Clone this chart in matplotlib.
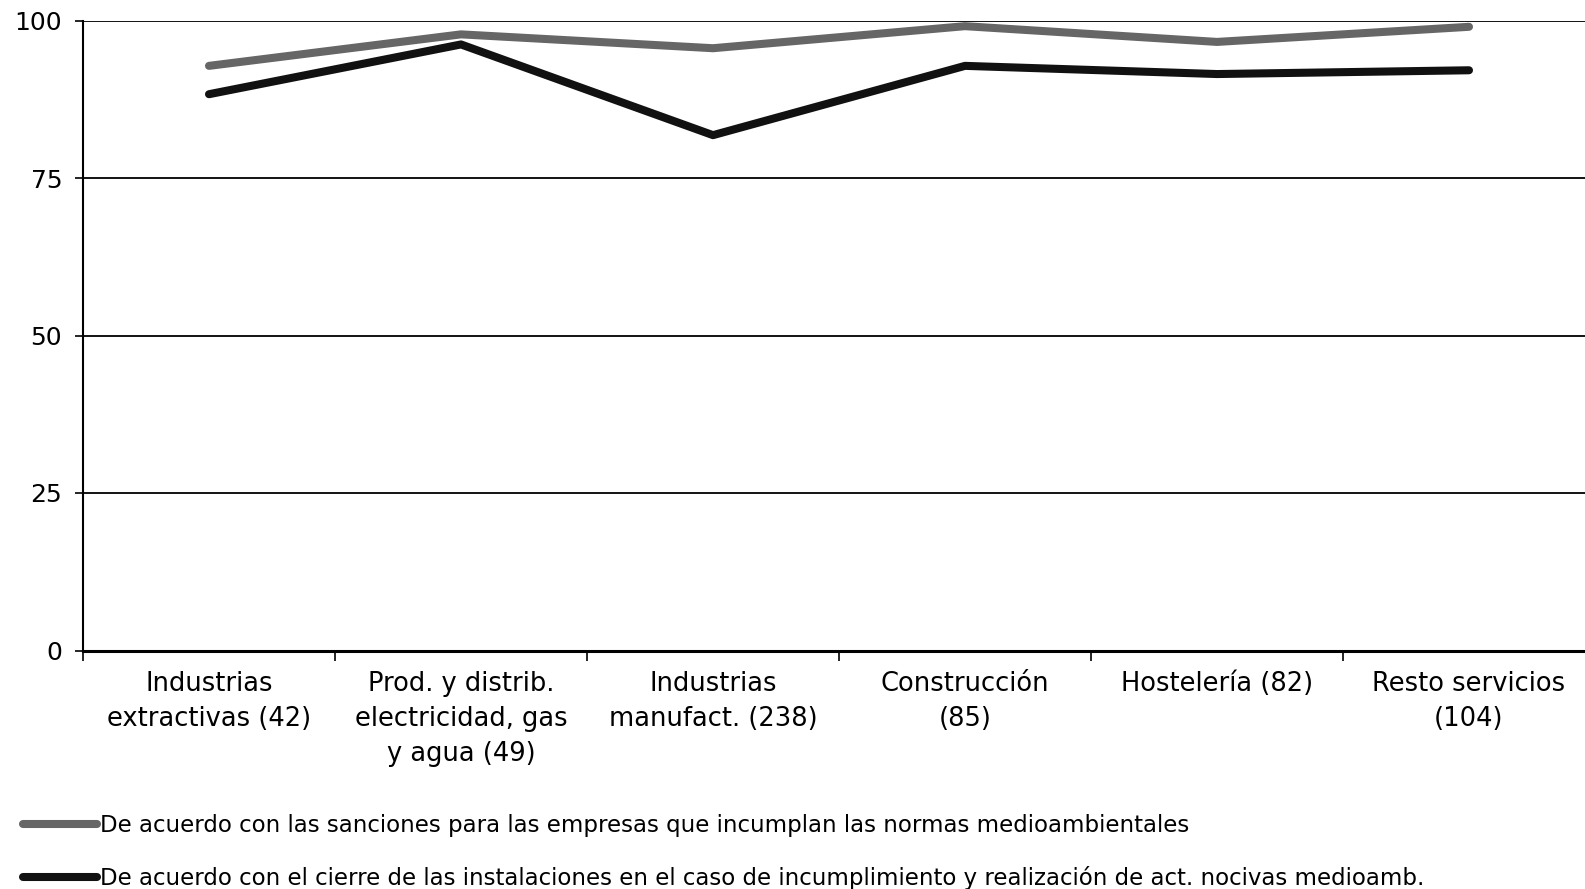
import matplotlib.pyplot as plt
import numpy as np

plt.rcParams['font.family'] = ['DejaVu Sans']

#Data
categories = ["Industrias\nextractivas (42)",
              "Prod. y distrib.\nelectricidad, gas\ny agua (49)",
              "Industrias\nmanufact. (238)",
              "Construcción\n(85)",
              "Hostelería (82)",
              "Resto servicios\n(104)"]
sanciones = [92.8, 97.8, 95.6, 99.1, 96.6, 99.0]
cierre = [88.3, 96.2, 81.8, 92.8, 91.5, 92.1]
label_sanciones = "De acuerdo con las sanciones para las empresas que incumplan las normas medioambientales"
label_cierre = "De acuerdo con el cierre de las instalaciones en el caso de incumplimiento y realización de act. nocivas medioamb."
yticks = [0, 25, 50, 75, 100]

fig = plt.figure(figsize=(15.85, 8.89), dpi=100)
ax = fig.add_axes([83/1585, (889-650.5)/889, 1512/1585, 630/889])

x = np.arange(len(categories))
ax.plot(x, sanciones, color='#666666', lw=5.8, solid_capstyle='round',
        solid_joinstyle='round', label=label_sanciones, zorder=3)
ax.plot(x, cierre, color='#111111', lw=5.8, solid_capstyle='round',
        solid_joinstyle='round', label=label_cierre, zorder=3)

ax.set_xlim(-0.5, len(categories) - 0.5)
ax.set_ylim(0, 100)
ax.set_yticks(yticks)
ax.set_yticklabels([str(t) for t in yticks], fontsize=18)
ax.tick_params(axis='y', length=6, width=1.2, pad=9)

#boundary ticks without labels, labels in the middle
ax.set_xticks(np.arange(-0.5, len(categories), 1.0))
ax.set_xticklabels([])
ax.set_xticks(x, minor=True)
ax.set_xticklabels(categories, minor=True, fontsize=18.5, linespacing=1.45)
ax.tick_params(axis='x', which='major', length=7, width=1.2)
ax.tick_params(axis='x', which='minor', length=0, pad=15)

ax.yaxis.grid(True, color='black', lw=1.3)
ax.set_axisbelow(True)
for s in ['top', 'right']:
    ax.spines[s].set_visible(False)
ax.spines['left'].set_linewidth(1.5)
ax.spines['bottom'].set_linewidth(2.2)

#legend below the plot
fig.legend(loc='upper left', bbox_to_anchor=(14/1585, 1 - 805/889),
           frameon=False, fontsize=16.5, handlelength=3.2, handletextpad=0.15,
           labelspacing=1.27, borderaxespad=0)

fig.savefig("out.png", dpi=100)
